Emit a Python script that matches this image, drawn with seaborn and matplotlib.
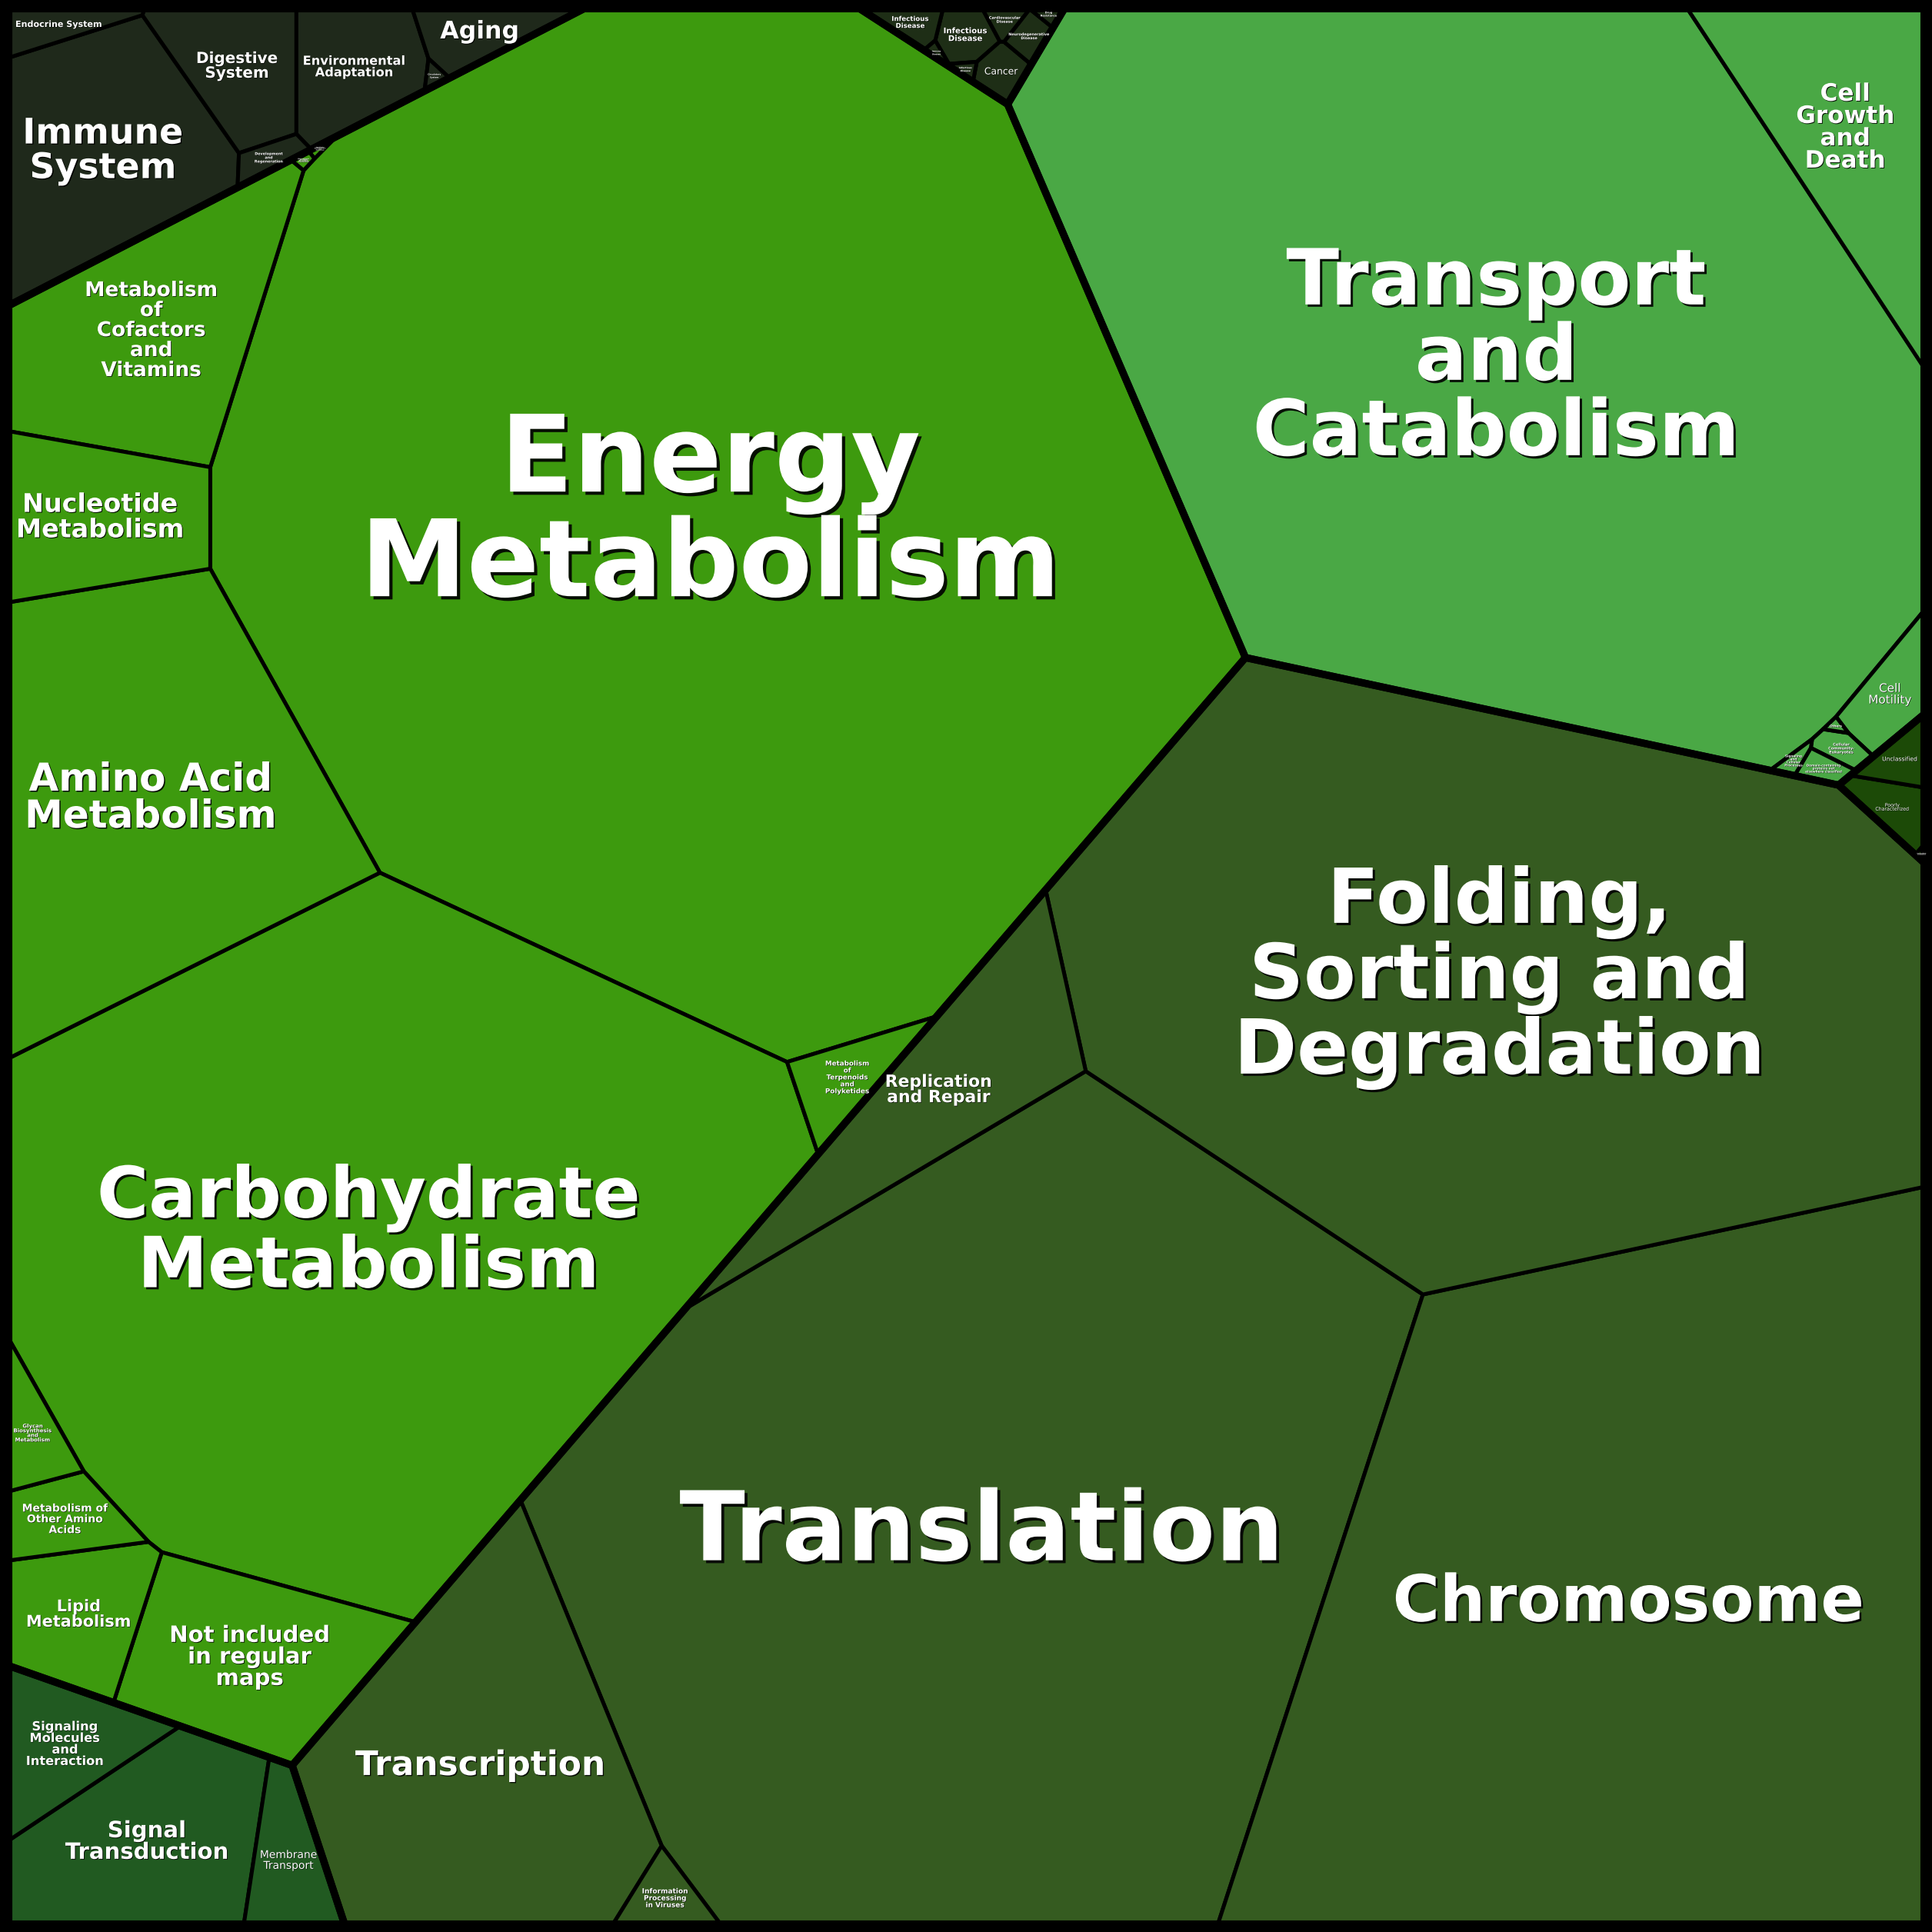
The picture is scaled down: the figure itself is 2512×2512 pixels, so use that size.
"""
Voronoi treemap of KEGG functional categories (two levels).
Cells are power-diagram cells whose weights are solved so that each
cell area matches its value; seeds only steer where a cell sits.
"""
import numpy as np
import matplotlib
matplotlib.use('Agg')
import matplotlib.pyplot as plt
import matplotlib.patheffects as pe
from matplotlib.patches import Polygon
import seaborn as sns

# ---------------- data ----------------
groups = ["Metabolism", "Genetic Information Processing", "Cellular Processes",
          "Organismal Systems", "Human Diseases",
          "Environmental Information Processing", "Unclassified"]

metabolism_names = ["Energy\nMetabolism", "Carbohydrate\nMetabolism", "Amino Acid\nMetabolism",
                    "Metabolism\nof\nCofactors\nand\nVitamins", "Not included\nin regular\nmaps",
                    "Nucleotide\nMetabolism", "Lipid\nMetabolism", "Metabolism of\nOther Amino\nAcids",
                    "Metabolism\nof\nTerpenoids\nand\nPolyketides", "Glycan\nBiosynthesis\nand\nMetabolism",
                    "Biosynthesis\nof Other\nSecondary\nMetabolites",
                    "Xenobiotics\nBiodegradation\nand\nMetabolism"]
metabolism_values = [510, 262, 78, 34.6, 24.6, 18.2, 11.7, 5.4, 5.0, 3.9, 0.15, 0.1]

genetic_names = ["Translation", "Chromosome", "Folding,\nSorting and\nDegradation",
                 "Transcription", "Replication\nand Repair", "Information\nProcessing\nin Viruses"]
genetic_values = [346.6, 267.9, 267.5, 63.1, 27.0, 2.8]

cellular_names = ["Transport\nand\nCatabolism", "Cell\nGrowth\nand\nDeath", "Cell\nMotility",
                  "Cellular\nCommunity-\nEukaryotes",
                  "Domain-containing\nproteins not\nelsewhere classified",
                  "Signaling\nand\nCellular\nProcesses", "Others"]
cellular_values = [342, 28.2, 4.25, 0.95, 0.8, 0.36, 0.12]

organismal_names = ["Immune\nSystem", "Digestive\nSystem", "Environmental\nAdaptation", "Aging",
                    "Endocrine System", "Development\nand\nRegeneration", "Circulatory\nSystem"]
organismal_values = [28.9, 10.0, 9.6, 4.3, 2.6, 1.2, 0.25]

disease_names = ["Infectious\nDisease", "Infectious\nDisease", "Cancer",
                 "Neurodegenerative\nDisease", "Cardiovascular\nDisease", "Drug\nResistance",
                 "Infectious\nDisease", "Immune\nDisease"]
disease_values = [1.8, 1.3, 1.4, 0.9, 0.6, 0.25, 0.2, 0.15]

environmental_names = ["Signal\nTransduction", "Signaling\nMolecules\nand\nInteraction",
                       "Membrane\nTransport"]
environmental_values = [25.3, 10.0, 6.6]

unclassified_names = ["Poorly\nCharacterized", "Unclassified", "Unclassified:\nmetabolism"]
unclassified_values = [2.36, 1.8, 0.06]

# ---------------- layout / style ----------------
group_colors = ['#3d9a0e', '#355b20', '#4aa845', '#1f291b', '#1e2e16', '#215a21', '#1c4a07']
group_seeds = [(402, 646), (1040, 1195), (1235, 288), (115, 90), (800, 30), (100, 1505), (1535, 650)]

leaf_seeds = [
    [(555, 430), (290, 1000), (125, 670), (110, 290), (195, 1345), (85, 430), (55, 1300),
     (45, 1225), (688, 866), (25, 1150), (238, 136), (249, 127)],
    [(880, 1280), (1310, 1420), (1182, 824), (415, 1470), (676, 936), (531, 1542)],
    [(1210, 300), (1501, 108), (1530, 565), (1490, 608), (1480, 628), (1448, 627), (1514, 621)],
    [(85, 125), (185, 55), (288, 55), (380, 25), (50, 15), (210, 130), (346, 62)],
    [(790, 28), (745, 17), (818, 60), (843, 30), (820, 12), (860, 9), (792, 55), (766, 42)],
    [(110, 1500), (50, 1410), (228, 1518)],
    [(1530, 672), (1538, 625), (1556, 706)],
]
leaf_fontsizes = [
    [100, 66, 36, 19, 21, 24, 15, 10, 6.3, 5, 1.5, 1.2],
    [90, 60, 71, 31.6, 15.8, 6.5],
    [72.5, 22.4, 11, 3.6, 3, 3, 3],
    [33, 14.4, 11.7, 22.7, 8, 3.5, 2],
    [7.3, 6.2, 8.9, 3.5, 3.5, 2.5, 2.2, 1.8],
    [21, 11.7, 10],
    [4.5, 5.5, 1.2],
]
normal_weight = {"Membrane\nTransport", "Cell\nMotility", "Unclassified", "Poorly\nCharacterized", "Cancer"}

leaf_names = [metabolism_names, genetic_names, cellular_names, organismal_names,
              disease_names, environmental_names, unclassified_names]
leaf_values = [metabolism_values, genetic_values, cellular_values, organismal_values,
               disease_values, environmental_values, unclassified_values]

EDGE = 6.0
SPAN = 1568 - 2 * EDGE


def to_unit(pts):
    return [((x - EDGE) / SPAN, (y - EDGE) / SPAN) for x, y in pts]


# ---------------- power diagram helpers ----------------
def clip(poly, a1, a2, b):
    out = []
    n = len(poly)
    for k in range(n):
        px, py = poly[k]
        qx, qy = poly[(k + 1) % n]
        fp = a1 * px + a2 * py - b
        fq = a1 * qx + a2 * qy - b
        if fp <= 0:
            out.append((px, py))
        if (fp < 0 < fq) or (fq < 0 < fp):
            t = fp / (fp - fq)
            out.append((px + t * (qx - px), py + t * (qy - py)))
    return out


def signed_area(poly):
    s = 0.0
    n = len(poly)
    for k in range(n):
        x1, y1 = poly[k]
        x2, y2 = poly[(k + 1) % n]
        s += x1 * y2 - x2 * y1
    return s / 2


def area(poly):
    return abs(signed_area(poly)) if len(poly) > 2 else 0.0


def centroid(poly):
    a = signed_area(poly)
    cx = cy = 0.0
    n = len(poly)
    for k in range(n):
        x1, y1 = poly[k]
        x2, y2 = poly[(k + 1) % n]
        c = x1 * y2 - x2 * y1
        cx += (x1 + x2) * c
        cy += (y1 + y2) * c
    return (cx / (6 * a), cy / (6 * a))


def inside(poly, p, margin):
    s = 1 if signed_area(poly) > 0 else -1
    n = len(poly)
    for k in range(n):
        x1, y1 = poly[k]
        x2, y2 = poly[(k + 1) % n]
        L = np.hypot(x2 - x1, y2 - y1)
        if L == 0:
            continue
        cr = ((x2 - x1) * (p[1] - y1) - (y2 - y1) * (p[0] - x1)) / L
        if cr * s < margin:
            return False
    return True


def pull_inside(poly, p, margin=8e-4):
    c = centroid(poly)
    for _ in range(80):
        if inside(poly, p, margin):
            return p
        p = (c[0] + 0.92 * (p[0] - c[0]), c[1] + 0.92 * (p[1] - c[1]))
    return p


def power_cells(region, sites, w):
    n = len(sites)
    cells = []
    for i in range(n):
        xi, yi = sites[i]
        poly = list(region)
        for j in range(n):
            if j == i or not poly:
                continue
            xj, yj = sites[j]
            b = xj * xj + yj * yj - xi * xi - yi * yi - w[j] + w[i]
            poly = clip(poly, 2 * (xj - xi), 2 * (yj - yi), b)
        cells.append(poly)
    return cells


def jacobian(cells, sites, w):
    n = len(sites)
    J = np.zeros((n, n))
    for i in range(n):
        poly = cells[i]
        m = len(poly)
        xi, yi = sites[i]
        for j in range(n):
            if j == i:
                continue
            xj, yj = sites[j]
            a1, a2 = 2 * (xj - xi), 2 * (yj - yi)
            norm = np.hypot(a1, a2)
            b = xj * xj + yj * yj - xi * xi - yi * yi - w[j] + w[i]
            L = 0.0
            for k in range(m):
                p = poly[k]
                q = poly[(k + 1) % m]
                if (abs(a1 * p[0] + a2 * p[1] - b) / norm < 1e-8
                        and abs(a1 * q[0] + a2 * q[1] - b) / norm < 1e-8):
                    L += np.hypot(q[0] - p[0], q[1] - p[1])
            if L > 0:
                J[i, j] -= L / norm
                J[i, i] += L / norm
    return J


def fit_cells(region, sites, values):
    n = len(sites)
    if n == 1:
        return [list(region)]
    t = np.array(values, float)
    t = t / t.sum() * area(region)
    w = np.zeros(n)
    cells = power_cells(region, sites, w)
    A = np.array([area(c) for c in cells])
    for _ in range(150):
        err = t - A
        e0 = np.abs(err).sum()
        if np.max(np.abs(err) / t) < 2e-3:
            break
        J = jacobian(cells, sites, w)
        dw = np.linalg.lstsq(J, err, rcond=None)[0]
        floor = 0.5 * min(t.min(), A.min())
        alpha = 1.0
        while True:
            w2 = w + alpha * dw
            cells2 = power_cells(region, sites, w2)
            A2 = np.array([area(c) for c in cells2])
            if (A2.min() > floor and np.abs(t - A2).sum() <= (1 - alpha / 2) * e0) or alpha < 1e-6:
                break
            alpha *= 0.5
        w, cells, A = w2, cells2, A2
    return cells


# ---------------- compute layout ----------------
square = [(0.0, 0.0), (1.0, 0.0), (1.0, 1.0), (0.0, 1.0)]
group_totals = [sum(v) for v in leaf_values]
gsites = [pull_inside(square, p) for p in to_unit(group_seeds)]
group_cells = fit_cells(square, gsites, group_totals)

leaf_cells = []
for g, gpoly in enumerate(group_cells):
    sites = [pull_inside(gpoly, p) for p in to_unit(leaf_seeds[g])]
    leaf_cells.append(fit_cells(gpoly, sites, leaf_values[g]))

# ---------------- draw ----------------
sns.set_theme(style="white")
plt.rcParams['font.family'] = ['DejaVu Sans']

fig = plt.figure(figsize=(25.12, 25.12), dpi=100, facecolor='black')
ax = fig.add_axes([0, 0, 1, 1])
ax.set_facecolor('black')
m = EDGE / SPAN
ax.set_xlim(-m, 1 + m)
ax.set_ylim(1 + m, -m)
ax.axis('off')

for g in range(len(groups)):
    for cell in leaf_cells[g]:
        if len(cell) < 3:
            continue
        ax.add_patch(Polygon(cell, closed=True, facecolor=group_colors[g], edgecolor='black',
                             linewidth=3.6, joinstyle='round'))
for g in range(len(groups)):
    ax.add_patch(Polygon(group_cells[g], closed=True, facecolor='none', edgecolor='black',
                         linewidth=6.8, joinstyle='round'))
# outer frame
ax.add_patch(Polygon(square, closed=True, facecolor='none', edgecolor='black', linewidth=8))

for g in range(len(groups)):
    for k, cell in enumerate(leaf_cells[g]):
        if len(cell) < 3:
            continue
        cx, cy = centroid(cell)
        name = leaf_names[g][k]
        fs = leaf_fontsizes[g][k]
        off = max(0.4, fs * 0.03)
        ax.text(cx, cy, name, ha='center', va='center', multialignment='center',
                color='white', fontsize=fs, linespacing=1.0,
                fontweight='normal' if name in normal_weight else 'bold',
                path_effects=[pe.SimplePatchShadow(offset=(off, -off), shadow_rgbFace='black',
                                                   alpha=0.9), pe.Normal()])

fig.savefig('out.png', dpi=100, facecolor='black')
